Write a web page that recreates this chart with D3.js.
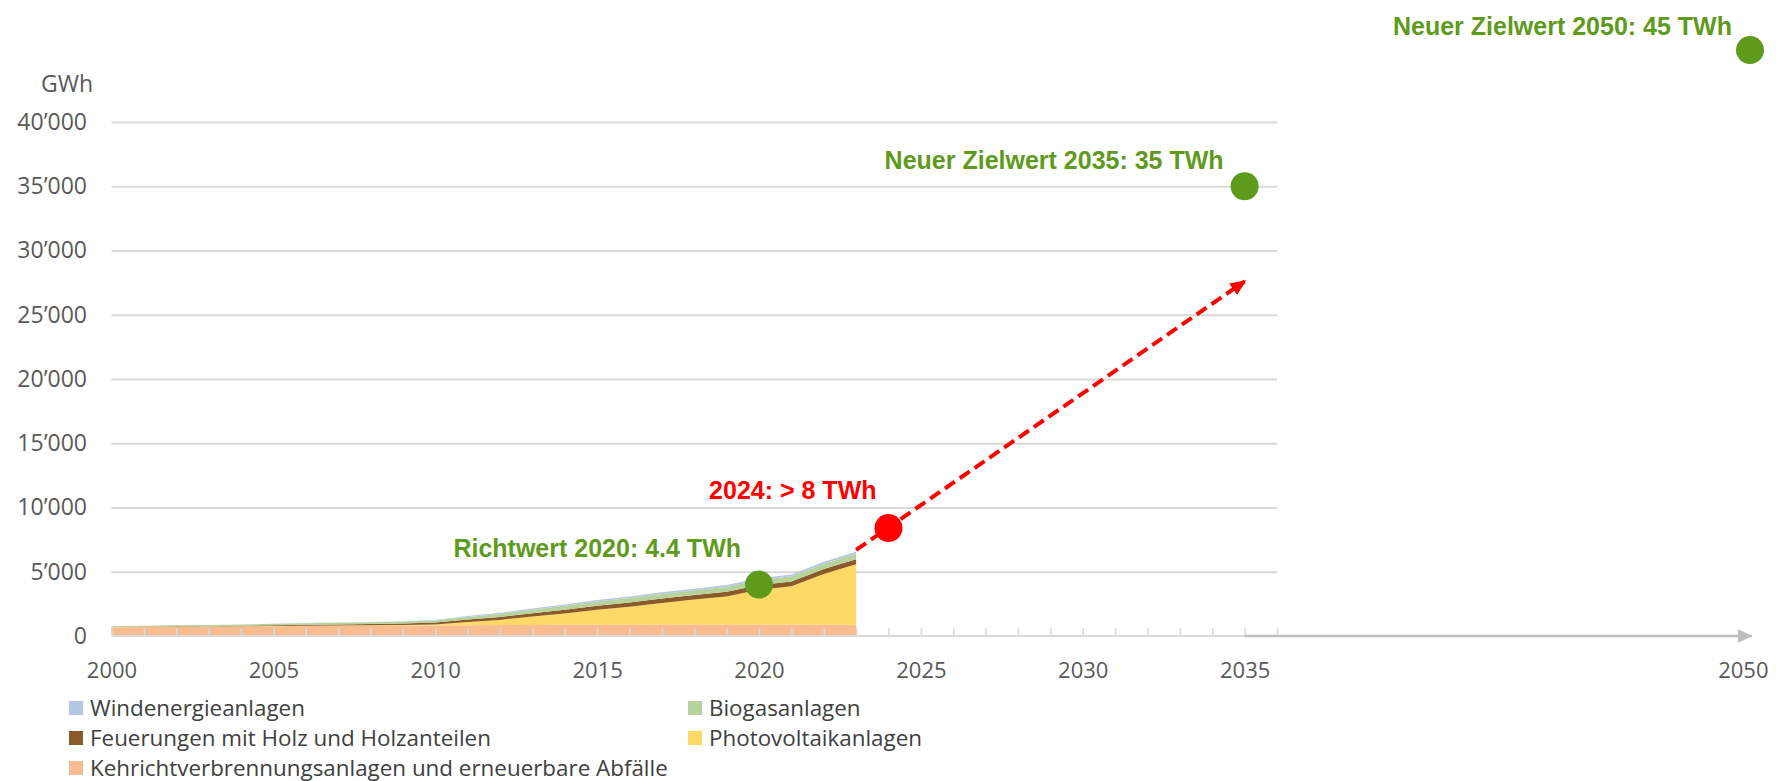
<!DOCTYPE html>
<html lang="de">
<head>
<meta charset="utf-8">
<title>Stromproduktion aus neuen erneuerbaren Energien</title>
<script src="https://cdn.jsdelivr.net/npm/d3@7/dist/d3.min.js"></script>
<style>
  body { margin: 0; background: #fff; }
  svg { display: block; }
  .axis text { font-family: "Open Sans", sans-serif; fill: #595959; }
  .note { font-family: "Liberation Sans", Arial, sans-serif; font-weight: bold; font-size: 25px; }
  .legend text { font-family: "Open Sans", sans-serif; font-size: 22.4px; fill: #404040; }
</style>
</head>
<body>
<div id="chart"></div>
<script>
// Jahre der Statistik
const years = [2000, 2001, 2002, 2003, 2004, 2005, 2006, 2007, 2008, 2009, 2010, 2011,
  2012, 2013, 2014, 2015, 2016, 2017, 2018, 2019, 2020, 2021, 2022, 2023];

// Produktion in GWh, pro Technologie (aus dem Bild geschaetzt)
const kehricht = [690, 700, 710, 720, 735, 760, 770, 780, 790, 800, 810, 830,
  850, 860, 870, 880, 880, 890, 900, 900, 900, 890, 880, 880];
const photovoltaik = [11, 13, 15, 17, 19, 21, 24, 29, 37, 54, 94, 260,
  400, 660, 890, 1170, 1400, 1683, 1944, 2178, 2690, 2980, 3950, 4700];
const holz = [15, 20, 25, 30, 40, 55, 75, 90, 105, 120, 140, 190,
  230, 260, 290, 310, 330, 340, 350, 360, 370, 380, 390, 400];
const biogas = [60, 70, 80, 90, 100, 110, 120, 130, 140, 150, 165, 200,
  240, 270, 300, 330, 350, 360, 370, 380, 390, 400, 410, 420];
const wind = [3, 3, 5, 5, 6, 8, 15, 16, 19, 23, 37, 70,
  88, 90, 101, 110, 109, 133, 122, 146, 145, 139, 145, 160];

const seriesKeys = ['kehricht', 'photovoltaik', 'holz', 'biogas', 'wind'];
const seriesLabels = {
  wind: 'Windenergieanlagen',
  biogas: 'Biogasanlagen',
  holz: 'Feuerungen mit Holz und Holzanteilen',
  photovoltaik: 'Photovoltaikanlagen',
  kehricht: 'Kehrichtverbrennungsanlagen und erneuerbare Abfälle'
};
const seriesColors = {
  wind: '#b4c7e7',
  biogas: '#b6d39c',
  holz: '#8b5a2b',
  photovoltaik: '#ffd966',
  kehricht: '#f7bd90'
};
const legendOrder = ['wind', 'biogas', 'holz', 'photovoltaik', 'kehricht'];

// Ziel- und Richtwerte (GWh)
const targetYears = [2020, 2035, 2050];
const targetValues = [4000, 35000, 45600];
const targetLabels = ['Richtwert 2020: 4.4 TWh', 'Neuer Zielwert 2035: 35 TWh', 'Neuer Zielwert 2050: 45 TWh'];

// Stand 2024 und Trendpfeil
const currentYear = [2024];
const currentValue = [8400];
const currentLabel = ['2024: > 8 TWh'];
const trendYears = [2023, 2035];
const trendValues = [6700, 27600];

// Achsen
const yTicks = [0, 5000, 10000, 15000, 20000, 25000, 30000, 35000, 40000];
const xTickLabels = [2000, 2005, 2010, 2015, 2020, 2025, 2030, 2035];
const xLastLabel = [2050];

const W = 1776, H = 781;
const green = '#5e9a1b', red = '#ff0000', grid = '#d9d9d9';

const svg = d3.select('#chart').append('svg')
  .attr('width', W).attr('height', H)
  .attr('viewBox', `0 0 ${W} ${H}`);

// x-Achse mit Bruch nach 2036 bis 2050
const x = d3.scaleLinear().domain([2000, 2036, 2050]).range([111.5, 1277, 1750]);
const y = d3.scaleLinear().domain([0, 40000]).range([636, 122]);

const fmt = d3.formatLocale({ decimal: '.', thousands: '’', grouping: [3], currency: ['', ''] }).format(',');

// Gitterlinien
svg.append('g')
  .attr('transform', `translate(${x(2000)},0)`)
  .call(d3.axisLeft(y).tickValues(yTicks.filter(d => d > 0)).tickSize(-(x(2036) - x(2000))).tickFormat(''))
  .call(g => g.select('.domain').remove())
  .call(g => g.selectAll('line').attr('stroke', grid).attr('stroke-width', 1.8));

// y-Beschriftung
svg.append('g')
  .attr('class', 'axis')
  .attr('transform', `translate(${x(2000)},0)`)
  .call(d3.axisLeft(y).tickValues(yTicks).tickSize(0).tickPadding(24.5).tickFormat(fmt))
  .call(g => g.select('.domain').remove())
  .call(g => g.selectAll('text').attr('font-size', 23));

svg.append('text')
  .attr('x', 93).attr('y', 92)
  .attr('text-anchor', 'end')
  .attr('font-family', 'Open Sans, sans-serif')
  .attr('font-size', 23)
  .attr('fill', '#595959')
  .text('GWh');

// gestapelte Flaechen
const rows = years.map((yr, i) => ({
  year: yr,
  kehricht: kehricht[i],
  photovoltaik: photovoltaik[i],
  holz: holz[i],
  biogas: biogas[i],
  wind: wind[i]
}));
const stacked = d3.stack().keys(seriesKeys)(rows);

const area = d3.area()
  .x(d => x(d.data.year))
  .y0(d => y(d[0]))
  .y1(d => y(d[1]));

svg.append('g')
  .selectAll('path')
  .data(stacked)
  .join('path')
  .attr('fill', d => seriesColors[d.key])
  .attr('d', area);

// Basislinie und Teilstriche
svg.append('line')
  .attr('x1', x(2000)).attr('x2', x(2036))
  .attr('y1', y(0)).attr('y2', y(0))
  .attr('stroke', grid).attr('stroke-width', 1.8);

const tickYears = d3.range(2000, 2037);
svg.append('g')
  .attr('class', 'axis')
  .attr('transform', `translate(0,${y(0)})`)
  .call(d3.axisBottom(x).tickValues(tickYears).tickSizeInner(-8).tickSizeOuter(0).tickPadding(26)
    .tickFormat(d => xTickLabels.includes(d) ? d : ''))
  .call(g => g.select('.domain').remove())
  .call(g => g.selectAll('line').attr('stroke', grid).attr('stroke-width', 1.5))
  .call(g => g.selectAll('text').attr('font-size', 22));

// Pfeil der Zeitachse bis 2050
const defs = svg.append('defs');
defs.append('marker')
  .attr('id', 'arrow-grey')
  .attr('markerUnits', 'userSpaceOnUse')
  .attr('markerWidth', 14).attr('markerHeight', 14)
  .attr('refX', 14).attr('refY', 7)
  .attr('orient', 'auto')
  .append('path').attr('d', 'M0,0 L14,7 L0,14 Z').attr('fill', '#bfbfbf');

defs.append('marker')
  .attr('id', 'arrow-red')
  .attr('markerUnits', 'userSpaceOnUse')
  .attr('markerWidth', 16).attr('markerHeight', 14)
  .attr('refX', 14).attr('refY', 7)
  .attr('orient', 'auto')
  .append('path').attr('d', 'M0,0 L16,7 L0,14 Z').attr('fill', red);

svg.append('line')
  .attr('x1', x(2035)).attr('x2', x(2050) + 2)
  .attr('y1', y(0)).attr('y2', y(0))
  .attr('stroke', '#bfbfbf').attr('stroke-width', 2.5)
  .attr('marker-end', 'url(#arrow-grey)');

svg.append('g')
  .attr('class', 'axis')
  .attr('transform', `translate(0,${y(0)})`)
  .call(d3.axisBottom(x).tickValues(xLastLabel).tickSize(0).tickPadding(26).tickFormat(d => d))
  .call(g => g.select('.domain').remove())
  .call(g => g.selectAll('text').attr('font-size', 22).attr('fill', '#262626')
    .attr('text-anchor', 'end').attr('dx', 18));

// Trendpfeil (gestrichelt)
const trendLine = d3.line().x(d => x(d[0])).y(d => y(d[1]));
svg.append('path')
  .datum(d3.zip(trendYears, trendValues))
  .attr('d', trendLine)
  .attr('fill', 'none')
  .attr('stroke', red)
  .attr('stroke-width', 4)
  .attr('stroke-dasharray', '12,6')
  .attr('marker-end', 'url(#arrow-red)');

// Punkte
const targets = targetYears.map((yr, i) => ({ year: yr, value: targetValues[i], label: targetLabels[i] }));
const labelOffset = { 2020: [-18, -28], 2035: [-21, -17], 2050: [-18, -15] };

svg.append('g')
  .selectAll('circle')
  .data(targets)
  .join('circle')
  .attr('cx', d => x(d.year))
  .attr('cy', d => y(d.value))
  .attr('r', 14)
  .attr('fill', green);

svg.append('g')
  .selectAll('text')
  .data(targets)
  .join('text')
  .attr('class', 'note')
  .attr('x', d => x(d.year) + labelOffset[d.year][0])
  .attr('y', d => y(d.value) + labelOffset[d.year][1])
  .attr('text-anchor', 'end')
  .attr('fill', green)
  .text(d => d.label);

const current = currentYear.map((yr, i) => ({ year: yr, value: currentValue[i], label: currentLabel[i] }));
svg.append('g')
  .selectAll('circle')
  .data(current)
  .join('circle')
  .attr('cx', d => x(d.year))
  .attr('cy', d => y(d.value))
  .attr('r', 14)
  .attr('fill', red);

svg.append('g')
  .selectAll('text')
  .data(current)
  .join('text')
  .attr('class', 'note')
  .attr('x', d => x(d.year) - 12)
  .attr('y', d => y(d.value) - 29)
  .attr('text-anchor', 'end')
  .attr('fill', red)
  .text(d => d.label);

// Legende, zwei Spalten
const legend = svg.append('g').attr('class', 'legend');
const item = legend.selectAll('g')
  .data(legendOrder)
  .join('g')
  .attr('transform', (d, i) => `translate(${i % 2 === 0 ? 69 : 688},${708 + Math.floor(i / 2) * 30})`);

item.append('rect')
  .attr('x', 0).attr('y', -7)
  .attr('width', 14).attr('height', 14)
  .attr('fill', d => seriesColors[d]);

item.append('text')
  .attr('x', 21).attr('y', 7.5)
  .text(d => seriesLabels[d]);
</script>
</body>
</html>
